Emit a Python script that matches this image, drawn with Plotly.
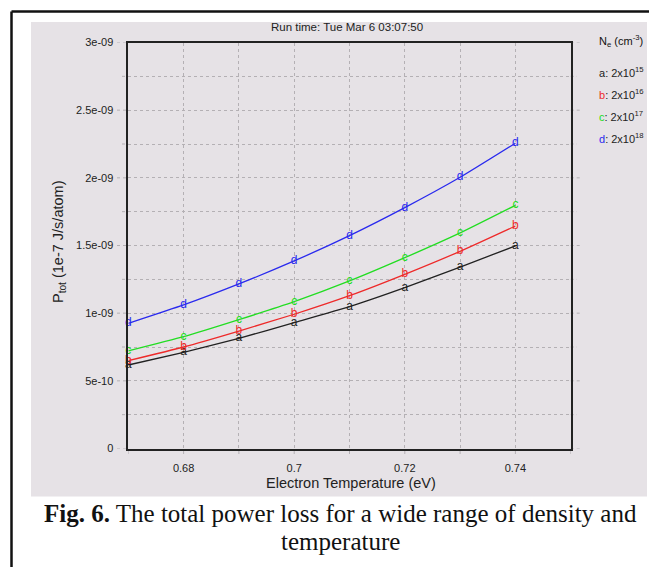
import plotly.graph_objects as go

# the page puts the figure 8 px in from the window's top-left corner
OFF = 8
W, H = 657 - OFF, 567 - OFF

temps = [0.67, 0.68, 0.69, 0.70, 0.71, 0.72, 0.73, 0.74]
series_names = ["a", "b", "c", "d"]
series_colors = ["#222222", "#ee2a2a", "#22dd22", "#2a2aee"]
density_labels = ["2x10<sup>15</sup>", "2x10<sup>16</sup>", "2x10<sup>17</sup>", "2x10<sup>18</sup>"]
p_a = [0.617e-9, 0.711e-9, 0.814e-9, 0.930e-9, 1.048e-9, 1.188e-9, 1.341e-9, 1.497e-9]
p_b = [0.649e-9, 0.750e-9, 0.868e-9, 0.992e-9, 1.129e-9, 1.287e-9, 1.457e-9, 1.644e-9]
p_c = [0.721e-9, 0.826e-9, 0.952e-9, 1.085e-9, 1.238e-9, 1.410e-9, 1.593e-9, 1.797e-9]
p_d = [0.925e-9, 1.061e-9, 1.216e-9, 1.386e-9, 1.573e-9, 1.780e-9, 2.004e-9, 2.256e-9]
series_values = [p_a, p_b, p_c, p_d]

x_tickvals = [0.68, 0.70, 0.72, 0.74]
x_ticktext = ["0.68", "0.7", "0.72", "0.74"]
x_minor = [0.67, 0.69, 0.71, 0.73, 0.75]
y_tickvals = [0, 5e-10, 1e-9, 1.5e-9, 2e-9, 2.5e-9, 3e-9]
y_ticktext = ["0", "5e-10", "1e-09", "1.5e-09", "2e-09", "2.5e-09", "3e-09"]
y_minor = [2.5e-10, 7.5e-10, 1.25e-9, 1.75e-9, 2.25e-9, 2.75e-9]

def px(x):
    return (x - OFF) / W

def py(y):
    return 1 - (y - OFF) / H

fig = go.Figure()
for name, col, vals in zip(series_names, series_colors, series_values):
    fig.add_trace(go.Scatter(
        x=temps, y=vals, mode="lines+text", text=[name] * len(temps),
        textposition="middle center", textfont=dict(color=col, size=12, family="Liberation Sans"),
        line=dict(color=col, width=1.3, shape="spline", smoothing=0.5),
        cliponaxis=False, showlegend=False, hoverinfo="skip"))

GRID = "#b4b0b4"
shapes = []
shapes.append(dict(type="rect", xref="paper", yref="paper", x0=px(31), x1=px(647), y0=py(496.5), y1=py(22),
                   fillcolor="#e6e2e6", line=dict(width=0), layer="below"))
shapes.append(dict(type="line", xref="paper", yref="paper", x0=px(11.5), x1=px(11.5), y0=py(11.5), y1=0,
                   line=dict(color="#111111", width=2.5)))
shapes.append(dict(type="line", xref="paper", yref="paper", x0=px(11.5), x1=1, y0=py(11.5), y1=py(11.5),
                   line=dict(color="#111111", width=2.5)))
for v in y_tickvals:
    shapes.append(dict(type="line", xref="paper", yref="y", x0=px(117), x1=px(128.3), y0=v, y1=v,
                       line=dict(color=GRID, width=1, dash="dot"), layer="below"))
    shapes.append(dict(type="line", xref="paper", yref="y", x0=px(570.7), x1=px(582), y0=v, y1=v,
                       line=dict(color=GRID, width=1, dash="dot"), layer="below"))
for v in y_minor:
    shapes.append(dict(type="line", xref="paper", yref="y", x0=px(122), x1=px(128.3), y0=v, y1=v,
                       line=dict(color=GRID, width=1, dash="dot"), layer="below"))
    shapes.append(dict(type="line", xref="paper", yref="y", x0=px(570.7), x1=px(577), y0=v, y1=v,
                       line=dict(color=GRID, width=1, dash="dot"), layer="below"))
for v in x_tickvals + x_minor:
    shapes.append(dict(type="line", xref="x", yref="paper", x0=v, x1=v, y0=py(454), y1=py(448.5),
                       line=dict(color=GRID, width=1, dash="dot"), layer="below"))

def ann(text, x, y, size, family="Liberation Sans", color="#222", xanchor="center", **kw):
    return dict(text=text, x=px(x), y=py(y), xref="paper", yref="paper", xanchor=xanchor,
                yanchor="middle", showarrow=False, font=dict(size=size, family=family, color=color), **kw)

annotations = [
    ann("Run time: Tue Mar 6 03:07:50", 347, 27, 11.5),
    ann("Electron Temperature (eV)", 351, 483, 14.5),
    ann("P<sub>tot</sub> (1e-7 J/s/atom)", 59, 242, 14.5, textangle=-90),
    ann("N<sub>e</sub> (cm<sup>-3</sup>)", 597, 41, 11, color="#111", xanchor="left"),
    ann("<b>Fig. 6.</b> The total power loss for a wide range of density and", 340, 513, 25,
        family="Liberation Serif", color="#111"),
    ann("temperature", 340, 541, 25, family="Liberation Serif", color="#111"),
]
for i, (name, col, lab) in enumerate(zip(series_names, series_colors, density_labels)):
    annotations.append(ann(f"<span style='color:{col}'>{name}</span>: {lab}", 597, 72 + 22 * i, 11,
                           xanchor="left"))

fig.update_layout(
    width=W, height=H, margin=dict(l=0, r=0, t=0, b=0, autoexpand=False),
    paper_bgcolor="white", plot_bgcolor="rgba(0,0,0,0)",
    shapes=shapes, annotations=annotations,
    xaxis=dict(domain=[px(128.3), px(570.7)], range=[0.67, 0.75], tickmode="array",
               tickvals=x_tickvals, ticktext=x_ticktext, showgrid=True, gridcolor=GRID, griddash="dot",
               gridwidth=1, minor=dict(tickvals=x_minor, showgrid=True, gridcolor=GRID, griddash="dot"),
               showline=True, mirror=True, linecolor="#222", linewidth=1.5, zeroline=False,
               ticks="", ticklabelstandoff=9, tickfont=dict(size=11, family="Liberation Sans", color="#222")),
    yaxis=dict(domain=[py(448.5), py(42.5)], range=[0, 3e-9], tickmode="array",
               tickvals=y_tickvals, ticktext=y_ticktext, showgrid=True, gridcolor=GRID, griddash="dot",
               gridwidth=1, minor=dict(tickvals=y_minor, showgrid=True, gridcolor=GRID, griddash="dot"),
               showline=True, mirror=True, linecolor="#222", linewidth=1.5, zeroline=False,
               ticks="", ticklabelstandoff=11, tickfont=dict(size=11, family="Liberation Sans", color="#222")),
)

fig.write_html("out.html")
